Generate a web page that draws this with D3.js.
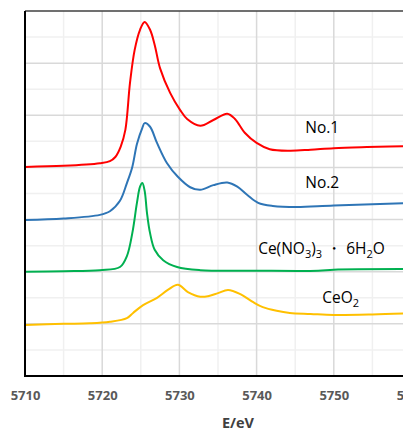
<!DOCTYPE html>
<meta charset="utf-8">
<style>
body { margin: 0; background: #fff; }
.tick text { font-family: "Open Sans", "Liberation Sans", sans-serif; font-weight: bold; fill: #595959; }
.lbl { font-family: "Open Sans", "Liberation Sans", sans-serif; font-size: 15.5px; fill: #000; }
</style>
<body>
<script src="https://cdn.jsdelivr.net/npm/d3@7"></script>
<script>

// energy axis ticks
var xTicks = [5710, 5720, 5730, 5740, 5750, 5760];

// spectra, [E (eV), offset intensity]
var no1 = [[5710,4.01],[5715,4.03],[5719.7,4.08],[5721,4.12],[5721.7,4.2],[5722.4,4.4],[5723,4.72],[5723.6,5.62],
  [5724.2,6.25],[5724.9,6.64],[5725.5,6.79],[5726.2,6.64],[5726.8,6.35],[5727.5,5.9],[5728.8,5.43],[5730.1,5.1],
  [5731,4.93],[5732.7,4.8],[5734.4,4.91],[5736.2,5.03],[5737.2,4.93],[5738.5,4.66],[5740,4.47],[5741.7,4.35],
  [5744.3,4.32],[5747,4.34],[5750,4.37],[5754.3,4.39],[5761,4.41]];

var no2 = [[5710,2.99],[5715,3.02],[5719.7,3.09],[5721,3.16],[5722.3,3.36],[5723.2,3.7],[5723.9,4.01],[5724.5,4.45],
  [5725.2,4.76],[5725.5,4.85],[5726.2,4.78],[5727.1,4.47],[5728.4,4.08],[5729.8,3.82],[5731.4,3.62],[5732.7,3.57],
  [5734.4,3.66],[5736.2,3.71],[5737.5,3.63],[5738.8,3.47],[5740.2,3.32],[5742.1,3.26],[5745.2,3.24],[5750,3.27],
  [5761,3.32]];

var nitrate = [[5710,2.0],[5715,2.01],[5719.7,2.03],[5722.3,2.09],[5723.2,2.3],[5723.9,2.74],[5724.5,3.32],[5724.9,3.63],
  [5725.2,3.7],[5725.5,3.55],[5725.8,3.13],[5726.2,2.74],[5726.8,2.42],[5727.9,2.22],[5729.7,2.09],[5732.7,2.03],
  [5740,2.02],[5748,2.02],[5750,2.04],[5761,2.05]];

var ceo2 = [[5710,0.98],[5715,1.0],[5718.4,1.01],[5721,1.04],[5723.2,1.11],[5724,1.21],[5725.3,1.36],[5727.1,1.5],
  [5728.5,1.65],[5729.8,1.75],[5731.1,1.61],[5732.7,1.52],[5733.7,1.53],[5735,1.59],[5736.3,1.65],[5737.9,1.57],
  [5739.5,1.42],[5740.8,1.32],[5742.6,1.25],[5744.3,1.21],[5747,1.19],[5750,1.17],[5755,1.18],[5761,1.21]];

var series = [
  {name: "No.1", values: no1, color: "#ff0000"},
  {name: "No.2", values: no2, color: "#2e75b6"},
  {name: "nitrate", values: nitrate, color: "#00b050"},
  {name: "CeO2", values: ceo2, color: "#ffc000"}
];

var width = 403, height = 433;
var plotLeft = 25, plotTop = 11, plotBottom = 376;

var x = d3.scaleLinear().domain([5710, 5760]).range([plotLeft, plotLeft + 50 * 7.72]);
var y = d3.scaleLinear().domain([0, 7]).range([plotBottom, plotTop]);

var svg = d3.select("body").append("svg")
    .attr("width", width)
    .attr("height", height);

// minor grid
var minorX = d3.range(5715, 5761, 10), minorY = d3.range(0.5, 7, 1);
svg.append("g").selectAll("line").data(minorX).enter().append("line")
    .attr("x1", d => x(d)).attr("x2", d => x(d)).attr("y1", plotTop).attr("y2", plotBottom)
    .attr("stroke", "#f0f0f0").attr("stroke-width", 1.5);
svg.append("g").selectAll("line").data(minorY).enter().append("line")
    .attr("x1", plotLeft).attr("x2", width).attr("y1", d => y(d)).attr("y2", d => y(d))
    .attr("stroke", "#f0f0f0").attr("stroke-width", 1.5);

// major grid
svg.append("g").selectAll("line").data(d3.range(5720, 5761, 10)).enter().append("line")
    .attr("x1", d => x(d)).attr("x2", d => x(d)).attr("y1", plotTop).attr("y2", plotBottom)
    .attr("stroke", "#d9d9d9").attr("stroke-width", 1.5);
svg.append("g").selectAll("line").data(d3.range(1, 7, 1)).enter().append("line")
    .attr("x1", plotLeft).attr("x2", width).attr("y1", d => y(d)).attr("y2", d => y(d))
    .attr("stroke", "#d9d9d9").attr("stroke-width", 1.5);

// frame
svg.append("line").attr("x1", plotLeft).attr("x2", width).attr("y1", plotTop).attr("y2", plotTop)
    .attr("stroke", "#404040").attr("stroke-width", 1.5);

// spectra
var line = d3.line()
    .x(d => x(d[0]))
    .y(d => y(d[1]))
    .curve(d3.curveCatmullRom.alpha(0.5));

svg.selectAll(".spec").data(series).enter().append("path")
    .attr("class", "spec")
    .attr("d", d => line(d.values))
    .attr("fill", "none")
    .attr("stroke", d => d.color)
    .attr("stroke-width", 2);

// axes
var xAxis = d3.axisBottom(x).tickValues(xTicks).tickSize(0).tickPadding(15).tickFormat(d3.format("d"));
var gx = svg.append("g")
    .attr("transform", "translate(0," + plotBottom + ")")
    .call(xAxis);
gx.select(".domain").attr("stroke", "#000").attr("stroke-width", 2).attr("d", "M" + plotLeft + ",0H" + width);
gx.selectAll(".tick text").style("font-size", "13px");

svg.append("line").attr("x1", plotLeft).attr("x2", plotLeft).attr("y1", plotTop).attr("y2", plotBottom + 1)
    .attr("stroke", "#000").attr("stroke-width", 2);

svg.append("text")
    .attr("x", 238).attr("y", 428)
    .attr("text-anchor", "middle")
    .style("font-family", "'Open Sans', sans-serif")
    .style("font-weight", "bold")
    .style("font-size", "14.5px")
    .style("fill", "#404040")
    .text("E/eV");

// series labels
svg.append("text").attr("class", "lbl").attr("x", x(5746.3)).attr("y", y(4.76)).attr("dy", "0.35em").text("No.1");
svg.append("text").attr("class", "lbl").attr("x", x(5746.3)).attr("y", y(3.7)).attr("dy", "0.35em").text("No.2");

var t3 = svg.append("text").attr("class", "lbl").attr("x", x(5740.2)).attr("y", y(2.45)).attr("dy", "0.35em");
t3.append("tspan").text("Ce(NO");
t3.append("tspan").attr("dy", 4).style("font-size", "11px").text("3");
t3.append("tspan").attr("dy", -4).text(")");
t3.append("tspan").attr("dy", 4).style("font-size", "11px").text("3");
t3.append("tspan").attr("dy", -4).text(" \u30fb 6H");
t3.append("tspan").attr("dy", 4).style("font-size", "11px").text("2");
t3.append("tspan").attr("dy", -4).text("O");

var t4 = svg.append("text").attr("class", "lbl").attr("x", x(5748.5)).attr("y", y(1.5)).attr("dy", "0.35em");
t4.append("tspan").text("CeO");
t4.append("tspan").attr("dy", 4).style("font-size", "11px").text("2");

</script>
</body>
